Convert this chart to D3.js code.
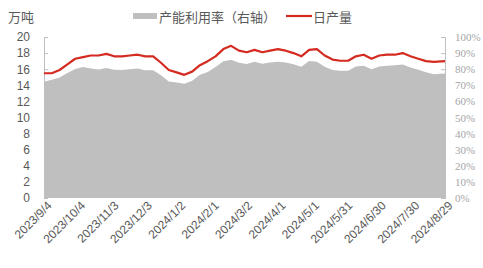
<!DOCTYPE html>
<meta charset="utf-8">
<style>
	body { margin: 0; background: #fff; }
	.tick-l { font: 12px "Liberation Sans", Arial, sans-serif; fill: #595959; }
	.tick-r { font: 11px "Liberation Serif", "Times New Roman", serif; fill: #a6a6a6; }
	.tick-x { font: 12px "Liberation Sans", Arial, sans-serif; fill: #595959; }
	.lab { font: 13px "Noto Sans CJK SC", sans-serif; fill: #595959; }
</style>
<svg width="483" height="268"></svg>
<script src="https://cdn.jsdelivr.net/npm/d3@7"></script>
<script>

// weekly dates
var dates = [
	"2023-09-04","2023-09-11","2023-09-18","2023-09-25","2023-10-02","2023-10-09","2023-10-16","2023-10-23",
	"2023-10-30","2023-11-06","2023-11-13","2023-11-20","2023-11-27","2023-12-04","2023-12-11","2023-12-18",
	"2023-12-25","2024-01-01","2024-01-08","2024-01-15","2024-01-22","2024-01-29","2024-02-05","2024-02-12",
	"2024-02-19","2024-02-26","2024-03-04","2024-03-11","2024-03-18","2024-03-25","2024-04-01","2024-04-08",
	"2024-04-15","2024-04-22","2024-04-29","2024-05-06","2024-05-13","2024-05-20","2024-05-27","2024-06-03",
	"2024-06-10","2024-06-17","2024-06-24","2024-07-01","2024-07-08","2024-07-15","2024-07-22","2024-07-29",
	"2024-08-05","2024-08-12","2024-08-19","2024-08-29"
];

// 日产量, 万吨
var output = [
	15.5,15.5,15.9,16.6,17.3,17.5,17.7,17.7,17.9,17.6,17.6,17.7,17.8,17.6,17.6,16.8,
	15.9,15.6,15.3,15.7,16.5,17.0,17.6,18.5,18.9,18.3,18.1,18.4,18.1,18.3,18.5,18.3,
	18.0,17.6,18.4,18.5,17.7,17.2,17.05,17.05,17.6,17.8,17.3,17.7,17.8,17.8,18.0,17.6,
	17.3,17.0,16.9,17.0
];

// 产能利用率 %
var util = [
	72.2,73.5,74.8,77.6,80.2,81.4,80.4,79.8,80.7,79.6,79.5,80.0,80.4,79.4,79.4,76.3,
	72.3,71.7,70.9,72.9,76.5,78.3,81.4,84.9,85.9,84.0,83.2,84.6,83.4,84.1,84.6,84.1,
	83.0,81.5,85.1,84.7,81.5,79.5,79.1,79.1,81.6,82.1,79.9,81.7,82.2,82.4,82.9,81.1,
	79.7,78.1,76.9,77.3
];

var leftTicks = [0, 2, 4, 6, 8, 10, 12, 14, 16, 18, 20];
var rightTicks = [0, 10, 20, 30, 40, 50, 60, 70, 80, 90, 100];
var xTicks = ["2023/9/4","2023/10/4","2023/11/3","2023/12/3","2024/1/2","2024/2/1","2024/3/2",
	"2024/4/1","2024/5/1","2024/5/31","2024/6/30","2024/7/30","2024/8/29"];

var parseDate = d3.timeParse("%Y-%m-%d"),
	parseTick = d3.timeParse("%Y/%m/%d");

var data = dates.map(function(d, i) {
	return {date: parseDate(d), output: output[i], util: util[i]};
});

var svg = d3.select("svg"),
	plotL = 44, plotR = 445, plotT = 37, plotB = 198;

var x = d3.scaleTime()
	.domain([parseTick(xTicks[0]), parseTick(xTicks[xTicks.length - 1])])
	.range([plotL, plotR]);
var yL = d3.scaleLinear().domain([0, 20]).range([plotB, plotT]);
var yR = d3.scaleLinear().domain([0, 100]).range([plotB, plotT]);

// area (right axis)
var area = d3.area()
	.x(function(d) { return x(d.date); })
	.y0(yR(0))
	.y1(function(d) { return yR(d.util); });

svg.append("path")
	.datum(data)
	.attr("d", area)
	.attr("fill", "#bfbfbf");

// axes
var axL = svg.append("g")
	.attr("transform", "translate(" + plotL + ",0)")
	.call(d3.axisLeft(yL).tickValues(leftTicks).tickSize(-4).tickPadding(14));
var axR = svg.append("g")
	.attr("transform", "translate(" + plotR + ",0)")
	.call(d3.axisRight(yR).tickValues(rightTicks).tickSize(-4).tickPadding(14)
		.tickFormat(function(d) { return d + "%"; }));

[axL, axR].forEach(function(a) {
	a.select(".domain").attr("stroke", "#bfbfbf");
	a.selectAll(".tick line").attr("stroke", "#bfbfbf");
});
axL.selectAll(".tick text").attr("class", "tick-l").attr("fill", null);
axR.selectAll(".tick text").attr("class", "tick-r").attr("fill", null).attr("x", 10);

var axX = svg.append("g")
	.attr("transform", "translate(0," + (plotB + 2) + ")")
	.call(d3.axisBottom(x).tickValues(xTicks.map(parseTick)).tickSize(0)
		.tickFormat(d3.timeFormat("%Y/%-m/%-d")));
axX.select(".domain").remove();
axX.selectAll(".tick text")
	.attr("class", "tick-x")
	.attr("fill", null)
	.attr("text-anchor", "end")
	.attr("transform", "rotate(-45)")
	.attr("dx", "0.1em")
	.attr("dy", "0.6em");

// line (left axis)
var line = d3.line()
	.x(function(d) { return x(d.date); })
	.y(function(d) { return yL(d.output); });

svg.append("path")
	.datum(data)
	.attr("d", line)
	.attr("fill", "none")
	.attr("stroke", "#d42a20")
	.attr("stroke-width", 2.2)
	.attr("stroke-linejoin", "round");

// unit + legend
svg.append("text").attr("class", "lab").attr("x", 8).attr("y", 22).text("万吨");

svg.append("rect").attr("x", 133).attr("y", 13).attr("width", 24).attr("height", 6).attr("fill", "#bfbfbf");
svg.append("text").attr("class", "lab").attr("x", 159).attr("y", 22).text("产能利用率（右轴）");
svg.append("line").attr("x1", 286).attr("x2", 312).attr("y1", 16).attr("y2", 16)
	.attr("stroke", "#d42a20").attr("stroke-width", 2.2);
svg.append("text").attr("class", "lab").attr("x", 313).attr("y", 22).text("日产量");

</script>
